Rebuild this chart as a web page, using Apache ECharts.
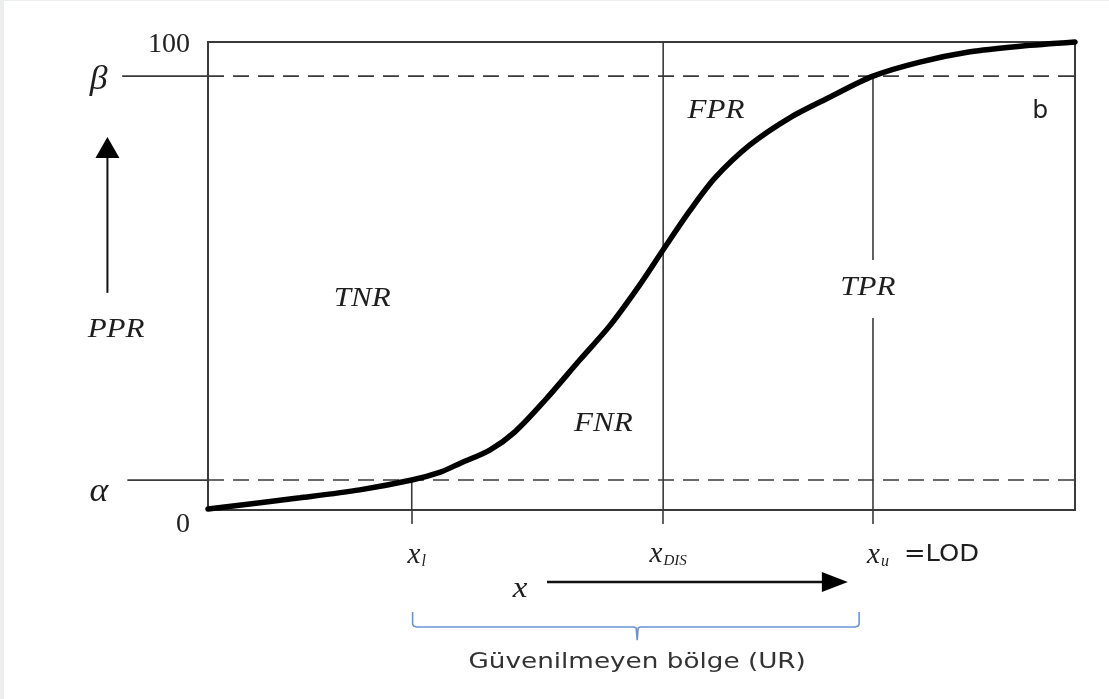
<!DOCTYPE html>
<html>
<head>
<meta charset="utf-8">
<script src="https://cdn.jsdelivr.net/npm/echarts@6/dist/echarts.min.js"></script>
<style>
  html, body { margin: 0; padding: 0; background: #fff; }
  #chart { width: 1109px; height: 699px; }
</style>
</head>
<body>
<div id="chart"></div>
<script>
// S-curve (PPR vs concentration)
const curveX = [0, 10.6, 17.5, 23.5, 26.8, 29.1, 32.5, 35.4, 38.9, 42.9, 46.4, 49.8, 52.5, 55.6, 58.5, 62.5, 67.1, 71.7, 76.7, 82.1, 87.9, 93.7, 100];
const curveY = [0.2, 2.6, 4.3, 6.4, 8.1, 10.0, 12.8, 16.7, 23.5, 32.1, 39.5, 48.1, 55.6, 64.0, 71.0, 78.0, 83.8, 88.2, 92.7, 95.7, 97.9, 99.1, 100];

const alphaLevel = 6.4;
const betaLevel = 92.7;
const levelStart = [-9.3, -9.9];           // solid stubs left of the box (alpha, beta)

const xMarks = [23.5, 52.5, 76.7];          // x_l, x_DIS, x_u
const xMarkLabels = ['{i|x}{s|l}', '{i|x}{sc|DIS}', '{i|x}{s|u}'];
const tprGap = [41.0, 53.4];                // break in the x_u line around "TPR"

// annotation texts in data coordinates
const noteText = ['β', 'α', 'PPR', 'TNR', 'FNR', 'FPR', 'TPR', 'b', '=LOD', 'x', 'Güvenilmeyen bölge (UR)'];
const noteX    = [-12.6, -12.6, -10.6, 17.8, 45.6, 58.6, 76.1, 96.0, 84.6, 36.0, 49.5];
const noteY    = [91.9, 3.8, 38.5, 45.1, 18.4, 85.3, 47.4, 85.0, -9.6, -16.9, -32.7];
const noteKind = ['greek', 'greek', 'serif', 'serif', 'serif', 'serif', 'serif', 'sans', 'lod', 'xvar', 'caption'];

// arrows and brace (data coordinates)
const upArrow = [[-11.6, 46.4], [-11.6, 79.7]];
const rightArrow = [[39.1, -15.4], [73.8, -15.4]];
const braceX = [23.6, 49.5, 75.1];          // left, middle, right
const braceY = [-21.8, -25.0, -27.8];       // top of ends, bar, tip

const FONTS = {
  greek: { font: 'italic 34px "Liberation Serif"', sx: 1.05 },
  serif: { font: 'italic 27px "Liberation Serif"', sx: 1.15 },
  sans: { font: '24px "DejaVu Sans"', sx: 1.05 },
  lod: { font: '23px "DejaVu Sans"', sx: 1.12 },
  xvar: { font: 'italic 30px "Liberation Serif"', sx: 1.1 },
  caption: { font: '21px "DejaVu Sans"', sx: 1.25 },
};

const chart = echarts.init(document.getElementById('chart'), null, { renderer: 'canvas' });

const lineSeries = (pts, style) => ({
  type: 'line', data: pts, symbol: 'none', clip: false, silent: true,
  lineStyle: Object.assign({ color: '#3a3a3a', width: 1.6 }, style),
});

const series = [
  lineSeries(curveX.map((x, i) => [x, curveY[i]]), { color: '#000', width: 5.5, cap: 'round' }),
  lineSeries([[0, alphaLevel], [100, alphaLevel]], { type: [16, 9] }),
  lineSeries([[0, betaLevel], [100, betaLevel]], { type: [16, 9] }),
  lineSeries([[xMarks[0], 0], [xMarks[0], alphaLevel]]),
  lineSeries([[xMarks[1], 0], [xMarks[1], 100]]),
  lineSeries([[xMarks[2], 0], [xMarks[2], tprGap[0]]]),
  lineSeries([[xMarks[2], tprGap[1]], [xMarks[2], betaLevel]]),
];
series[0].smooth = 0.3;
series[0].z = 5;

const serifSub = { fontFamily: 'Liberation Serif', fontStyle: 'italic', color: '#222' };

chart.setOption({
  backgroundColor: '#fff',
  animation: false,
  grid: { left: 208, right: 34, top: 42, bottom: 189, show: true, borderColor: '#3a3a3a', borderWidth: 2 },
  xAxis: {
    type: 'value', min: 0, max: 100,
    axisLine: { show: false },
    splitLine: { show: false },
    axisTick: { show: true, customValues: xMarks, length: 14, lineStyle: { color: '#3a3a3a', width: 1.6 } },
    axisLabel: {
      customValues: xMarks,
      margin: 30,
      padding: [0, 0, 0, 10],
      formatter: (v) => xMarkLabels[xMarks.indexOf(v)] || '',
      rich: {
        i: Object.assign({ fontSize: 29 }, serifSub),
        s: Object.assign({ fontSize: 16, padding: [14, 0, 0, 1] }, serifSub),
        sc: Object.assign({ fontSize: 15, padding: [14, 0, 0, 1] }, serifSub),
      },
    },
  },
  yAxis: {
    type: 'value', min: 0, max: 100, interval: 100,
    axisLine: { show: false },
    axisTick: { show: false },
    splitLine: { show: false },
    axisLabel: {
      margin: 18,
      formatter: (v) => (v === 0 ? '{z|0}' : '{h|' + v + '}'),
      rich: {
        z: { fontFamily: 'Liberation Serif', fontSize: 28, color: '#222', padding: [30, 0, 0, 0] },
        h: { fontFamily: 'Liberation Serif', fontSize: 28, color: '#222', padding: [6, 0, 0, 0] },
      },
    },
  },
  series,
});

// decorations positioned through the grid's own scales
const px = (p) => chart.convertToPixel({ gridIndex: 0 }, p);
const graphics = [
  { type: 'rect', shape: { x: 0, y: 0, width: 4, height: 699 }, style: { fill: '#eceeee' }, z: 100 },
  { type: 'rect', shape: { x: 0, y: 0, width: 1109, height: 1 }, style: { fill: '#eceeee' }, z: 100 },
];

// solid stubs of alpha / beta outside the box
[alphaLevel, betaLevel].forEach((lv, i) => {
  const a = px([levelStart[i], lv]);
  const b = px([0, lv]);
  graphics.push({ type: 'line', shape: { x1: a[0], y1: a[1], x2: b[0], y2: b[1] }, style: { stroke: '#3a3a3a', lineWidth: 1.8 } });
});

noteText.forEach((t, i) => {
  const [x, y] = px([noteX[i], noteY[i]]);
  const f = FONTS[noteKind[i]];
  graphics.push({
    type: 'text', x, y, z: 50, scaleX: f.sx,
    style: { text: t, font: f.font, fill: noteKind[i] === 'caption' ? '#333' : '#1e1e1e', align: 'center', verticalAlign: 'middle' },
  });
});

// up arrow
{
  const a = px(upArrow[0]);
  const b = px(upArrow[1]);
  graphics.push({ type: 'line', shape: { x1: a[0], y1: a[1], x2: b[0], y2: b[1] + 20 }, style: { stroke: '#111', lineWidth: 2 } });
  graphics.push({ type: 'polygon', shape: { points: [[b[0], b[1]], [b[0] - 12, b[1] + 21], [b[0] + 12, b[1] + 21]] }, style: { fill: '#000' } });
}
// right arrow
{
  const a = px(rightArrow[0]);
  const b = px(rightArrow[1]);
  graphics.push({ type: 'line', shape: { x1: a[0], y1: a[1], x2: b[0] - 24, y2: b[1] }, style: { stroke: '#111', lineWidth: 2.5 } });
  graphics.push({ type: 'polygon', shape: { points: [[b[0], b[1]], [b[0] - 26, b[1] - 10], [b[0] - 26, b[1] + 10]] }, style: { fill: '#000' } });
}
// brace
{
  const [l, top] = px([braceX[0], braceY[0]]);
  const [m, bar] = px([braceX[1], braceY[1]]);
  const [r] = px([braceX[2], 0]);
  const tip = px([0, braceY[2]])[1];
  const pts = [
    [l, top], [l, bar - 3], [l + 1, bar - 1], [l + 4, bar],
    [m - 3, bar], [m - 1, bar + 1], [m, tip], [m + 1, bar + 1], [m + 3, bar],
    [r - 4, bar], [r - 1, bar - 1], [r, bar - 3], [r, top],
  ];
  graphics.push({ type: 'polyline', shape: { points: pts }, style: { stroke: '#6a92d6', lineWidth: 1.6, fill: null } });
}

chart.setOption({ graphic: graphics });
</script>
</body>
</html>
